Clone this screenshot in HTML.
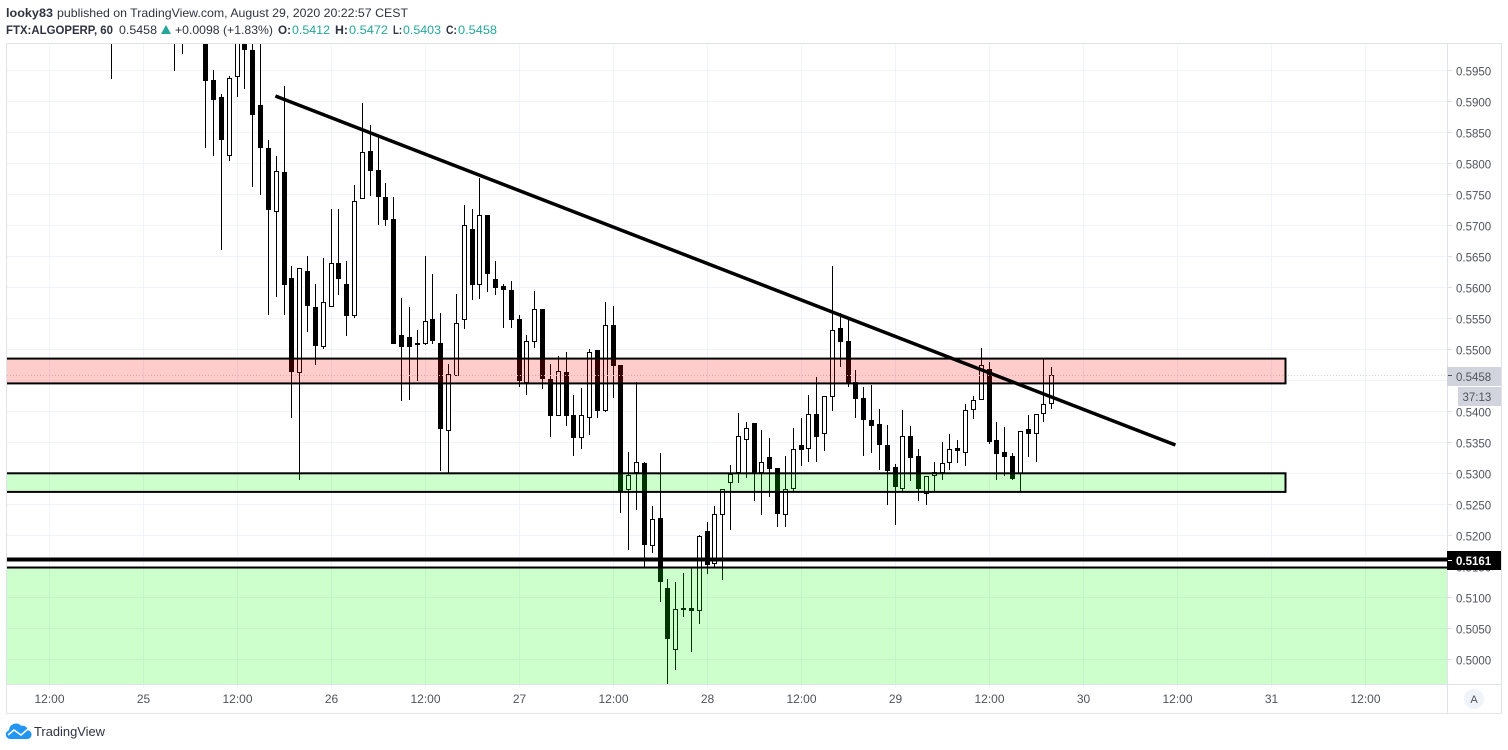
<!DOCTYPE html>
<html lang="en">
<head>
<meta charset="utf-8">
<title>FTX:ALGOPERP, 60</title>
<style>
html,body{margin:0;padding:0;background:#fff;width:1508px;height:750px;overflow:hidden}
svg{display:block;font-family:"Liberation Sans",Arial,sans-serif}
</style>
</head>
<body>
<svg id="chart" xmlns="http://www.w3.org/2000/svg" width="1508" height="750" viewBox="0 0 1508 750">
  <defs>
    <clipPath id="pane-clip"><rect x="7" y="44" width="1440" height="640.5"/></clipPath>
  </defs>
  <rect x="0" y="0" width="1508" height="750" fill="#ffffff"/>
  <g font-size="12" fill="#2f3241">
    <text x="6" y="17" font-weight="bold" textLength="47" lengthAdjust="spacingAndGlyphs">looky83</text>
    <text x="57" y="17" textLength="351" lengthAdjust="spacingAndGlyphs">published on TradingView.com, August 29, 2020 20:22:57 CEST</text>
    <text x="6" y="34" font-weight="bold" textLength="107" lengthAdjust="spacingAndGlyphs">FTX:ALGOPERP, 60</text>
    <text x="119" y="34" textLength="38" lengthAdjust="spacingAndGlyphs">0.5458</text>
    <polygon points="161,34 171,34 166,25" fill="#26a69a"/>
    <text x="175" y="34" textLength="98" lengthAdjust="spacingAndGlyphs">+0.0098 (+1.83%)</text>
    <text x="278" y="34" font-weight="bold" textLength="13" lengthAdjust="spacingAndGlyphs">O:</text>
    <text x="292" y="34" fill="#26a69a" textLength="38" lengthAdjust="spacingAndGlyphs">0.5412</text>
    <text x="335" y="34" font-weight="bold" textLength="13" lengthAdjust="spacingAndGlyphs">H:</text>
    <text x="349" y="34" fill="#26a69a" textLength="39" lengthAdjust="spacingAndGlyphs">0.5472</text>
    <text x="393" y="34" font-weight="bold" textLength="9" lengthAdjust="spacingAndGlyphs">L:</text>
    <text x="403" y="34" fill="#26a69a" textLength="38" lengthAdjust="spacingAndGlyphs">0.5403</text>
    <text x="446" y="34" font-weight="bold" textLength="11" lengthAdjust="spacingAndGlyphs">C:</text>
    <text x="458" y="34" fill="#26a69a" textLength="39" lengthAdjust="spacingAndGlyphs">0.5458</text>
  </g>
  <g id="grid"></g>
  <g id="pane" clip-path="url(#pane-clip)">
    <g id="candles"></g>
    <g id="drawings"></g>
  </g>
  <g id="frame" stroke="#e0e3eb" stroke-width="1" fill="none">
    <line x1="6" y1="43.5" x2="1502" y2="43.5"/>
    <line x1="6.5" y1="43" x2="6.5" y2="714"/>
    <line x1="1501.5" y1="43" x2="1501.5" y2="714"/>
    <line x1="6" y1="713.5" x2="1502" y2="713.5"/>
    <line x1="6" y1="684.5" x2="1502" y2="684.5"/>
    <line x1="1447.5" y1="43" x2="1447.5" y2="714"/>
  </g>
  <g id="price-axis" font-size="11.5" fill="#50535e"></g>
  <g id="time-axis" font-size="12" fill="#50535e" text-anchor="middle"></g>
  <g id="price-tags" font-size="11.5"></g>
  <g>
    <circle cx="1474" cy="699" r="10" fill="#f0f3fa"/>
    <text x="1474" y="703" font-size="11" fill="#50535e" text-anchor="middle">A</text>
  </g>
  <g>
    <path d="M10 739 a4.5 4.5 0 0 1 -1 -8.8 a7 7 0 0 1 12 -4.5 a6 6 0 0 1 7 4.5 a4.5 4.5 0 0 1 0 8.8 z" fill="#2196f3"/>
    <polyline points="8,735 14,730 21,735 28,729" fill="none" stroke="#ffffff" stroke-width="1.5"/>
    <text x="34" y="736" font-size="13" fill="#2f3241" textLength="71" lengthAdjust="spacingAndGlyphs">TradingView</text>
  </g>
</svg>
<script>
// Prices are in ten-thousandths (5458 = 0.5458). Candle index 0 of these arrays is hour 8
// counted from the first time-axis tick (Aug 24 12:00), one candle per hour.
const firstHour = 8;
const opens = [6010,6040,6050,6060,6050,6040,6030,6020,6010,6010,6010,6020,6010,5934,5907,5812,5940,6010,5983,5894,5825,5721,5786,5615,5461,5626,5568,5504,5569,5640,5606,5554,5742,5820,5789,5746,5710,5523,5520,5510,5509,5549,5510,5369,5457,5548,5694,5603,5716,5613,5602,5596,5549,5446,5511,5565,5452,5393,5463,5394,5357,5390,5499,5401,5539,5475,5273,5300,5316,5182,5228,5115,5015,5083,5082,5078,5207,5154,5232,5285,5300,5353,5381,5301,5326,5308,5232,5274,5345,5339,5395,5363,5423,5534,5513,5447,5421,5386,5379,5345,5310,5275,5360,5328,5266,5295,5301,5316,5341,5332,5402,5419,5468,5354,5335,5328,5299,5371,5363,5395,5412];
const highs = [6030,6060,6070,6080,6075,6060,6050,6040,6030,6025,6030,6035,6030,5950,5912,5941,6020,6020,6000,6000,5838,5812,5925,5634,5631,5650,5605,5647,5726,5727,5642,5765,5897,5862,5842,5768,5745,5582,5568,5531,5650,5621,5558,5476,5589,5733,5727,5777,5716,5642,5606,5610,5555,5523,5594,5565,5476,5489,5496,5426,5437,5500,5499,5576,5570,5475,5335,5448,5318,5248,5332,5129,5124,5139,5147,5201,5221,5248,5274,5313,5397,5382,5381,5370,5357,5308,5328,5373,5389,5427,5455,5425,5634,5558,5547,5467,5439,5442,5403,5378,5315,5402,5376,5340,5296,5318,5350,5363,5354,5412,5424,5502,5479,5383,5374,5332,5369,5394,5395,5484,5472];
const lows = [5936,6020,6030,6040,6030,6020,6005,6000,5949,5976,6000,6000,5824,5811,5660,5803,5907,5920,5762,5749,5555,5585,5555,5390,5290,5528,5474,5501,5569,5588,5522,5551,5742,5747,5700,5699,5509,5417,5419,5449,5507,5509,5303,5300,5457,5533,5580,5581,5593,5588,5535,5535,5440,5426,5502,5436,5359,5393,5377,5328,5339,5361,5390,5399,5422,5236,5176,5241,5147,5172,5093,4960,4983,5069,5012,5057,5138,5147,5128,5209,5285,5293,5256,5232,5261,5214,5214,5271,5311,5319,5319,5336,5401,5472,5440,5390,5328,5333,5305,5249,5217,5272,5288,5256,5249,5270,5289,5305,5317,5311,5388,5419,5347,5289,5296,5289,5270,5326,5319,5382,5403];
const closes = [6000,6030,6040,6050,6060,6050,6040,6030,6005,6000,6020,6010,5932,5902,5838,5937,6005,5982,5878,5824,5725,5787,5604,5464,5631,5570,5506,5577,5640,5614,5554,5740,5819,5788,5745,5709,5509,5504,5504,5507,5545,5513,5372,5460,5542,5700,5603,5716,5622,5599,5596,5548,5449,5513,5565,5452,5393,5465,5393,5357,5394,5495,5401,5540,5473,5270,5297,5318,5185,5227,5124,5033,5081,5080,5078,5199,5152,5235,5274,5299,5360,5373,5300,5319,5307,5235,5274,5340,5338,5395,5359,5424,5531,5511,5445,5420,5386,5377,5345,5304,5278,5360,5325,5274,5296,5302,5316,5340,5336,5402,5419,5474,5351,5331,5327,5291,5369,5364,5395,5411,5458];
const priceTicks = [5000,5050,5100,5150,5200,5250,5300,5350,5400,5450,5500,5550,5600,5650,5700,5750,5800,5850,5900,5950];
const timeTickHours = [0,12,24,36,48,60,72,84,96,108,120,132,144,156,168];
const timeTickLabels = ['12:00','25','12:00','26','12:00','27','12:00','28','12:00','29','12:00','30','12:00','31','12:00'];
const trendHours = [28.9,143.8];
const trendPrices = [5908.5,5345.6];
const lastPrice = 5458;
const levelPrice = 5161;
const redZone = [5485,5445];
const greenZone = [5300,5270];
const demandZone = [5148,4800];
const zoneHours = [-10,157.85,180];

const NS = 'http://www.w3.org/2000/svg';
function x(hour){ return 49.01 + hour * 7.83333; }
function y(price){ return 70.3 + (5950 - price) * 0.62; }
function px(hour){ return Math.floor(x(hour)); }
function make(tag, parent, attrs, text){
  const node = document.createElementNS(NS, tag);
  for (const k in attrs) node.setAttribute(k, attrs[k]);
  if (text !== undefined) node.textContent = text;
  parent.appendChild(node);
  return node;
}
const gridG = document.getElementById('grid');
const candlesG = document.getElementById('candles');
const drawG = document.getElementById('drawings');
const priceG = document.getElementById('price-axis');
const timeG = document.getElementById('time-axis');
const tagsG = document.getElementById('price-tags');

priceTicks.forEach(function(p){
  const yy = Math.floor(y(p)) + 0.5;
  const line = make('line', gridG, {x1:7, x2:1447, y1:yy, y2:yy, stroke:'#f0f3fa', 'stroke-width':1});
  
  
  const tick = make('line', priceG, {x1:1448, x2:1452, y1:yy, y2:yy, stroke:'#e0e3eb', 'stroke-width':1});
  
  
  const label = make('text', priceG, {x:1456, y:yy + 5}, (p / 10000).toFixed(4));
  
  
});
timeTickHours.forEach(function(h, i){
  const xx = px(h) + 0.5;
  const line = make('line', gridG, {x1:xx, x2:xx, y1:44, y2:688, stroke:'#f0f3fa', 'stroke-width':1});
  
  
  const label = make('text', timeG, {x:xx, y:703}, timeTickLabels[i]);
  
  
});

closes.forEach(function(c, i){
  const o = opens[i], h = highs[i], l = lows[i];
  const hour = firstHour + i;
  const cx = px(hour);
  const top = Math.round(y(Math.max(o, c)));
  const bottom = Math.max(Math.round(y(Math.min(o, c))), top + 2);
  const g = make('g', candlesG, {});
  
  
  const wick = make('rect', g, {x:cx, y:Math.round(y(h)), width:1, height:Math.max(Math.round(y(l)) - Math.round(y(h)), 1), fill:'#000000'});
  
  
  let body;
  if (c >= o) {
    body = make('rect', g, {x:cx - 1.5, y:top + 0.5, width:4, height:bottom - top - 1, fill:'#ffffff', stroke:'#000000', 'stroke-width':1});
  } else {
    body = make('rect', g, {x:cx - 2, y:top, width:5, height:bottom - top, fill:'#000000'});
  }
  
  
});

const lastY = Math.floor(y(lastPrice)) + 0.5;
const lastLine = make('line', drawG, {x1:7, x2:1447, y1:lastY, y2:lastY, stroke:'#d1d4dc', 'stroke-width':1, 'stroke-dasharray':'1 2'});



const redRect = make('rect', drawG, {x:x(zoneHours[0]), y:y(redZone[0]), width:x(zoneHours[1]) - x(zoneHours[0]), height:y(redZone[1]) - y(redZone[0]), fill:'rgba(255,0,0,0.2)', stroke:'#000000', 'stroke-width':2});


const greenRect = make('rect', drawG, {x:x(zoneHours[0]), y:y(greenZone[0]), width:x(zoneHours[1]) - x(zoneHours[0]), height:y(greenZone[1]) - y(greenZone[0]), fill:'rgba(0,255,0,0.2)', stroke:'#000000', 'stroke-width':2});


const demandRect = make('rect', drawG, {x:x(zoneHours[0]), y:y(demandZone[0]), width:x(zoneHours[2]) - x(zoneHours[0]), height:y(demandZone[1]) - y(demandZone[0]), fill:'rgba(0,255,0,0.2)', stroke:'#000000', 'stroke-width':2});


const levelLine = make('line', drawG, {x1:7, x2:1447, y1:y(levelPrice), y2:y(levelPrice), stroke:'#000000', 'stroke-width':4});


const trendLine = make('line', drawG, {x1:x(trendHours[0]), y1:y(trendPrices[0]), x2:x(trendHours[1]), y2:y(trendPrices[1]), stroke:'#000000', 'stroke-width':3.5});



const lastBg = make('rect', tagsG, {x:1447, y:367, width:54, height:19, fill:'#d1d4dc'});


const lastTick = make('line', tagsG, {x1:1448, x2:1452, y1:lastY, y2:lastY, stroke:'#50535e', 'stroke-width':1});


const lastText = make('text', tagsG, {x:1456, y:381, fill:'#50535e'}, (lastPrice / 10000).toFixed(4));


const timerBg = make('rect', tagsG, {x:1458, y:387, width:43, height:19, fill:'#d1d4dc'});


const timerText = make('text', tagsG, {x:1462.5, y:401, fill:'#50535e'}, '37:13');


const levelBg = make('rect', tagsG, {x:1447, y:551, width:54, height:19, fill:'#000000'});


const levelTick = make('line', tagsG, {x1:1448, x2:1452, y1:560.5, y2:560.5, stroke:'#ffffff', 'stroke-width':1});


const levelText = make('text', tagsG, {x:1456, y:565, fill:'#ffffff', 'font-weight':'bold'}, (levelPrice / 10000).toFixed(4));


</script>
</body>
</html>
